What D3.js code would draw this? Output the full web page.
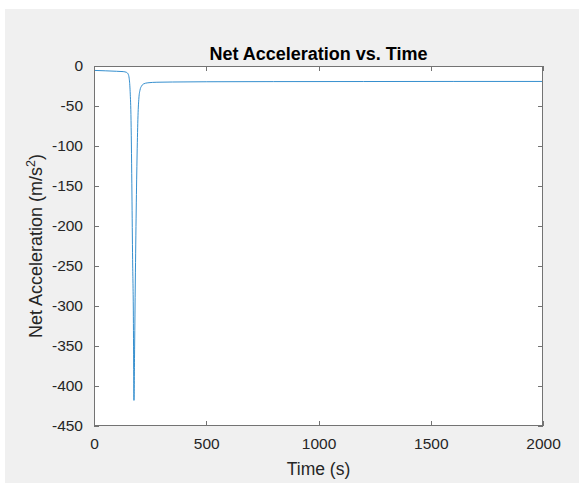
<!DOCTYPE html>
<html><head><meta charset="utf-8">
<script src="https://cdn.jsdelivr.net/npm/d3@7"></script>
<style>html,body{margin:0;padding:0;background:#fff;}svg{display:block;}</style>
</head><body>
<svg id="c" width="579" height="485"></svg>
<script>
// Data
const timeS = [0, 50, 100, 130, 145, 152, 157, 161, 165, 169, 172, 175, 178, 181, 184, 188, 192, 196, 200, 205, 212, 220, 240, 280, 350, 500, 800, 1200, 1600, 2000];
const netAccel = [-5.5, -6, -6.6, -7, -8, -10, -16, -32, -68, -160, -242, -300, -418, -350, -270, -180, -110, -62, -40, -30, -25, -22.5, -21, -20.3, -20, -19.7, -19.5, -19.4, -19.3, -19.3];
const xTicks = [0, 500, 1000, 1500, 2000];
const yTicks = [0, -50, -100, -150, -200, -250, -300, -350, -400, -450];

const svg = d3.select("#c");
const L = 94, R = 543, T = 66, B = 426;
const font = "'Liberation Sans', Arial, Helvetica, sans-serif";
const axisCol = "#737373";

svg.append("rect").attr("x", 5).attr("y", 9).attr("width", 574).attr("height", 474).attr("fill", "#f0f0f0");
svg.append("rect").attr("x", L).attr("y", T).attr("width", R - L).attr("height", B - T).attr("fill", "#fff");

const x = d3.scaleLinear().domain([0, 2000]).range([L, R]);
const y = d3.scaleLinear().domain([-450, 0]).range([B, T]);

const tl = 5;
function style(g) {
  g.select(".domain").remove();
  g.selectAll(".tick line").attr("stroke", axisCol).attr("shape-rendering", "crispEdges");
  g.selectAll(".tick text").attr("fill", "#262626").attr("font-family", font).attr("font-size", "15.5px");
}
const gx = svg.append("g").attr("transform", `translate(0,${B})`)
  .call(d3.axisBottom(x).tickValues(xTicks).tickFormat(d3.format("d")).tickSizeInner(-tl).tickSizeOuter(0).tickPadding(12));
style(gx);
const gy = svg.append("g").attr("transform", `translate(${L},0)`)
  .call(d3.axisLeft(y).tickValues(yTicks).tickFormat(d => d3.format("d")(d)).tickSizeInner(-tl).tickSizeOuter(0).tickPadding(11));
style(gy);
gy.selectAll(".tick text").text(d => d === 0 ? "0" : "-" + Math.abs(d));
const gt = svg.append("g").attr("transform", `translate(0,${T})`)
  .call(d3.axisTop(x).tickValues(xTicks).tickFormat("").tickSizeInner(-tl).tickSizeOuter(0));
style(gt);
const gr = svg.append("g").attr("transform", `translate(${R},0)`)
  .call(d3.axisRight(y).tickValues(yTicks).tickFormat("").tickSizeInner(-tl).tickSizeOuter(0));
style(gr);

// data line
const line = d3.line().x(d => x(d[0])).y(d => y(d[1])).curve(d3.curveMonotoneX);
svg.append("path").datum(timeS.map((t, i) => [t, netAccel[i]]))
  .attr("fill", "none").attr("stroke", "#1f82c8").attr("stroke-width", 0.9).attr("d", line);

// box
svg.append("rect").attr("x", L + 0.5).attr("y", T + 0.5).attr("width", R - L - 1).attr("height", B - T - 1)
  .attr("fill", "none").attr("stroke", axisCol).attr("stroke-width", 1);

// title and labels
svg.append("text").attr("x", (L + R) / 2).attr("y", 60).attr("text-anchor", "middle")
  .attr("font-family", font).attr("font-weight", "bold").attr("font-size", "18px").attr("fill", "#000")
  .text("Net Acceleration vs. Time");
svg.append("text").attr("x", (L + R) / 2).attr("y", 475).attr("text-anchor", "middle")
  .attr("font-family", font).attr("font-size", "17.5px").attr("fill", "#262626").text("Time (s)");
const yl = svg.append("text").attr("transform", `translate(42,${(T + B) / 2}) rotate(-90)`).attr("text-anchor", "middle")
  .attr("font-family", font).attr("font-size", "18px").attr("fill", "#262626");
yl.append("tspan").text("Net Acceleration (m/s");
yl.append("tspan").attr("dy", -7).attr("font-size", "12.5px").text("2");
yl.append("tspan").attr("dy", 7).text(")");
</script>
</body></html>
